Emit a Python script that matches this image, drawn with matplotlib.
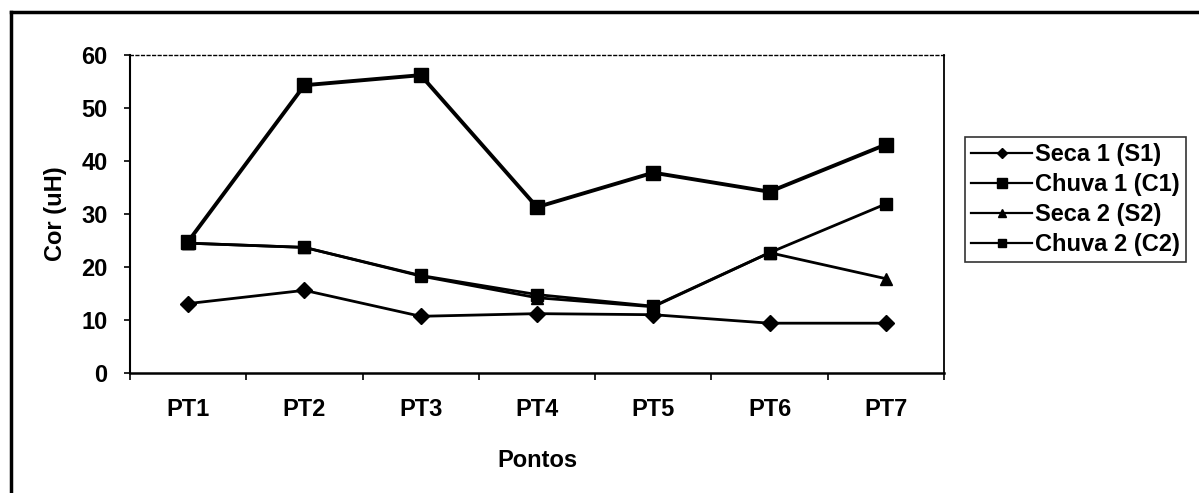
import matplotlib.pyplot as plt
from matplotlib.lines import Line2D

plt.rcParams['font.family'] = ['Liberation Sans', 'DejaVu Sans']

# dados
pontos = ['PT1', 'PT2', 'PT3', 'PT4', 'PT5', 'PT6', 'PT7']
seca1 = [13.1, 15.6, 10.7, 11.2, 11.0, 9.4, 9.4]
chuva1 = [24.8, 54.3, 56.2, 31.3, 37.8, 34.2, 43.1]
seca2 = [24.5, 23.7, 18.3, 14.2, 12.5, 22.7, 17.8]
chuva2 = [24.5, 23.7, 18.4, 14.8, 12.6, 22.7, 31.9]

fig = plt.figure(figsize=(11.99, 4.93), dpi=100)
ax = fig.add_axes([0.1084, 0.2434, 0.6789, 0.645])

x = list(range(len(pontos)))
ax.plot(x, seca1, color='black', lw=2.0, marker='D', markersize=8, label='Seca 1 (S1)')
ax.plot(x, chuva1, color='black', lw=2.8, marker='s', markersize=10, label='Chuva 1 (C1)')
ax.plot(x, seca2, color='black', lw=2.0, marker='^', markersize=9, label='Seca 2 (S2)')
ax.plot(x, chuva2, color='black', lw=2.0, marker='s', markersize=9, label='Chuva 2 (C2)')

ax.set_xlim(-0.5, len(pontos) - 0.5)
ax.set_ylim(0, 60)
ax.set_yticks(range(0, 61, 10))
ax.set_xticks(x)
ax.set_xticklabels(pontos)
ax.set_xticks([i + 0.5 for i in range(-1, len(pontos))], minor=True)
ax.tick_params(axis='x', which='major', length=0, pad=18, labelsize=17)
ax.tick_params(axis='x', which='minor', length=5, width=1.2, direction='out')
ax.tick_params(axis='y', length=4, width=1.2, pad=12, labelsize=17)
for lbl in ax.get_xticklabels() + ax.get_yticklabels():
    lbl.set_fontweight('bold')

ax.set_xlabel('Pontos', fontsize=17, fontweight='bold', labelpad=20)
ax.set_ylabel('Cor (uH)', fontsize=17, fontweight='bold', labelpad=10)

ax.spines['left'].set_linewidth(1.5)
ax.spines['bottom'].set_linewidth(1.8)
ax.spines['right'].set_linewidth(1.3)
ax.spines['top'].set_linewidth(1.0)
ax.spines['top'].set_linestyle((0, (2, 2)))

leg = ax.legend(loc='upper left', bbox_to_anchor=(0.805, 0.722),
                bbox_transform=fig.transFigure, frameon=True, fancybox=False,
                edgecolor='black', fontsize=17, handlelength=2.6,
                handletextpad=0.1, borderpad=0.25, labelspacing=0.3,
                borderaxespad=0, markerscale=0.7)
leg.get_frame().set_linewidth(1.2)
for t in leg.get_texts():
    t.set_fontweight('bold')
for h in leg.get_lines():
    h.set_linewidth(1.6)

# moldura externa do gráfico
fig.add_artist(Line2D([0.0092, 1.0], [0.975, 0.975], transform=fig.transFigure, color='black', lw=2.5))
fig.add_artist(Line2D([0.0092, 0.0092], [0.0, 0.975], transform=fig.transFigure, color='black', lw=2.5))

fig.savefig('out.png', dpi=100)
